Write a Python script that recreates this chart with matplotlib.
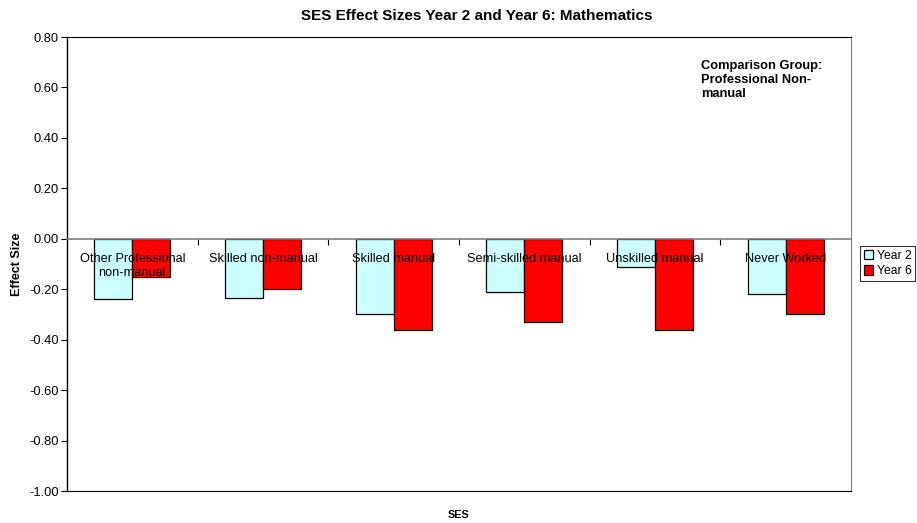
import matplotlib.pyplot as plt
import numpy as np

plt.rcParams['font.family'] = ['Liberation Sans', 'DejaVu Sans']

categories = ['Other Professional\nnon-manual', 'Skilled non-manual', 'Skilled manual',
              'Semi-skilled manual', 'Unskilled manual', 'Never Worked']
year2 = [-0.24, -0.235, -0.30, -0.21, -0.11, -0.22]
year6 = [-0.15, -0.20, -0.36, -0.33, -0.36, -0.30]
yticks = np.round(np.arange(-1.0, 0.81, 0.2), 2)

fig = plt.figure(figsize=(9.17, 5.23), dpi=100)
ax = fig.add_axes([67 / 917, 32 / 523, 784 / 917, 454 / 523])

x = np.arange(len(categories))
w = 0.29
ax.bar(x - w / 2, year2, w, color='#CCFFFF', edgecolor='black', linewidth=0.9, label='Year 2')
ax.bar(x + w / 2, year6, w, color='#FF0000', edgecolor='black', linewidth=0.9, label='Year 6')

ax.set_xlim(-0.5, len(categories) - 0.5)
ax.set_ylim(-1.0, 0.8)
ax.set_yticks(yticks)
ax.set_yticklabels([f'{abs(v):.2f}' if abs(v) < 1e-9 else f'{v:.2f}' for v in yticks],
                   fontsize=9.3)
ax.tick_params(axis='y', length=4, width=0.8, pad=2)
ax.set_xticks([])
for s in ('left', 'bottom', 'top'):
    ax.spines[s].set_color('black')
ax.spines['right'].set_color('#808080')
ax.spines['left'].set_linewidth(1.0)

# category axis drawn at y = 0, on top of the bars
sec = ax.secondary_xaxis(1.0 / 1.8)
sec.set_zorder(5)
sec.xaxis.set_ticks_position('bottom')
sec.xaxis.set_label_position('bottom')
sec.set_xticks(np.arange(0.5, len(categories) - 1, 1.0))
sec.set_xticklabels([])
sec.set_xticks(x, minor=True)
sec.set_xticklabels(categories, minor=True, fontsize=9.2)
sec.tick_params(which='major', direction='out', length=4, width=0.8)
sec.tick_params(which='minor', length=0, pad=10)
for s in ('top', 'bottom'):
    sec.spines[s].set_color('#808080')
    sec.spines[s].set_linewidth(1.2)
for lab in sec.get_xticklabels(minor=True):
    lab.set_linespacing(1.25)

ax.set_title('SES Effect Sizes Year 2 and Year 6: Mathematics', fontsize=11,
             fontweight='bold', pad=12, x=0.523)
ax.set_ylabel('Effect Size', fontsize=9, fontweight='bold', labelpad=4)
ax.set_xlabel('SES', fontsize=7.8, fontweight='bold', labelpad=14)

ax.text(0.809, 0.95, 'Comparison Group:\nProfessional Non-\nmanual', transform=ax.transAxes,
        fontsize=9.3, fontweight='bold', va='top', ha='left', linespacing=1.25)

leg = fig.legend(loc='upper left', bbox_to_anchor=(860 / 917, 1 - 246 / 523), fontsize=8.7,
                 frameon=True, fancybox=False, edgecolor='black', handlelength=0.8,
                 handleheight=0.8, handletextpad=0.3, borderpad=0.3, labelspacing=0.3,
                 borderaxespad=0)
leg.get_frame().set_linewidth(0.8)

fig.savefig('out.png', dpi=100)
